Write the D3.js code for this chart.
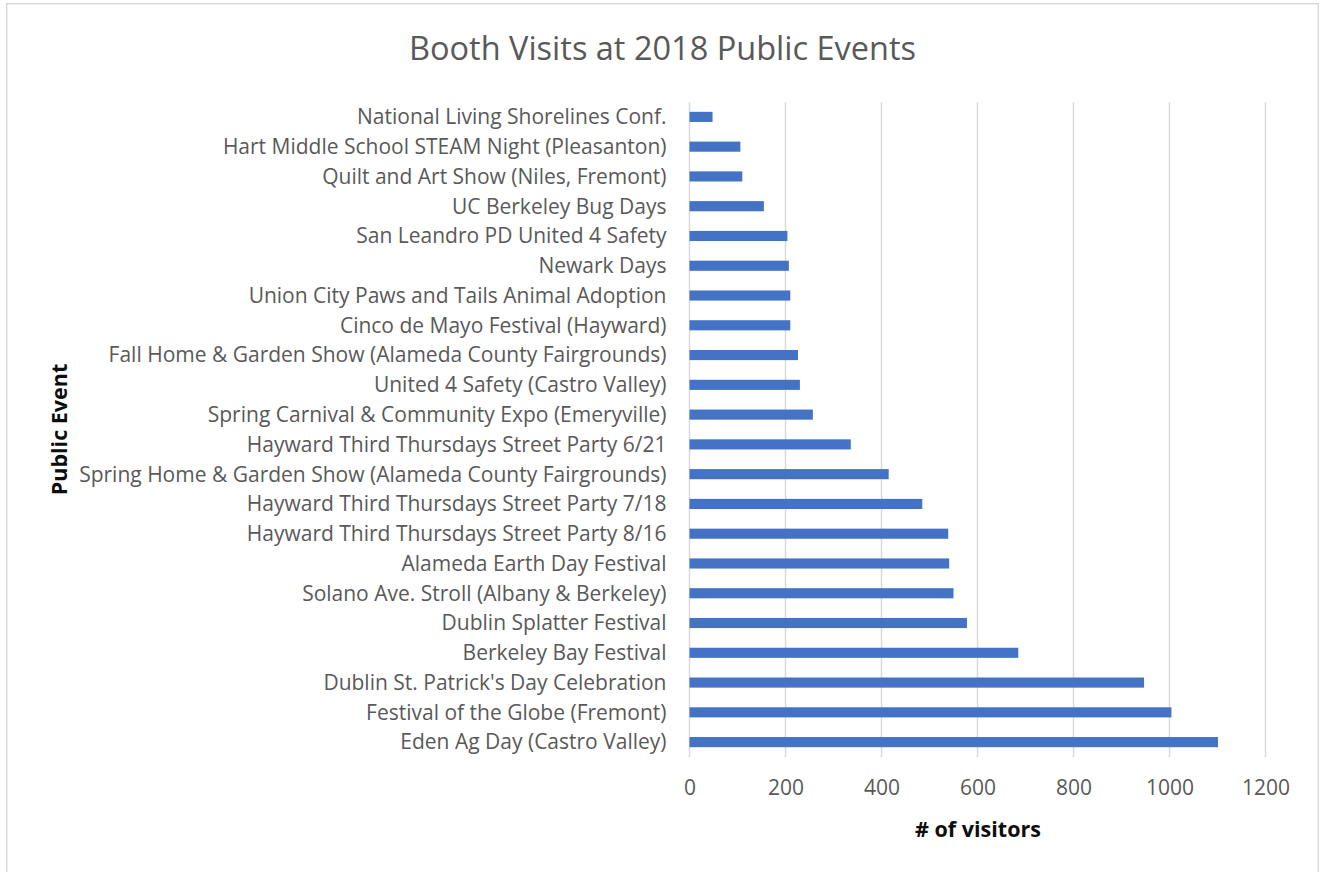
<!DOCTYPE html>
<html>
<head>
<meta charset="utf-8">
<script src="https://cdn.jsdelivr.net/npm/d3@7"></script>
<style>
  body { margin: 0; background: #fff; }
  text { font-family: "Open Sans", sans-serif; }
</style>
</head>
<body>
<script>
// events, listed top to bottom as in the chart
const events = [
  "National Living Shorelines Conf.",
  "Hart Middle School STEAM Night (Pleasanton)",
  "Quilt and Art Show (Niles, Fremont)",
  "UC Berkeley Bug Days",
  "San Leandro PD United 4 Safety",
  "Newark Days",
  "Union City Paws and Tails Animal Adoption",
  "Cinco de Mayo Festival (Hayward)",
  "Fall Home & Garden Show (Alameda County Fairgrounds)",
  "United 4 Safety (Castro Valley)",
  "Spring Carnival & Community Expo (Emeryville)",
  "Hayward Third Thursdays Street Party 6/21",
  "Spring Home & Garden Show (Alameda County Fairgrounds)",
  "Hayward Third Thursdays Street Party 7/18",
  "Hayward Third Thursdays Street Party 8/16",
  "Alameda Earth Day Festival",
  "Solano Ave. Stroll (Albany & Berkeley)",
  "Dublin Splatter Festival",
  "Berkeley Bay Festival",
  "Dublin St. Patrick's Day Celebration",
  "Festival of the Globe (Fremont)",
  "Eden Ag Day (Castro Valley)"
];
const visitors = [48, 106, 110, 155, 204, 207, 210, 210, 226, 230, 257, 336,
                  415, 485, 539, 541, 550, 578, 685, 947, 1004, 1101];
const xTicks = [0, 200, 400, 600, 800, 1000, 1200];

const W = 1321, H = 872;
const plot = { left: 689.5, right: 1265.5, top: 102, bottom: 757 };

const svg = d3.select("body").append("svg")
    .attr("width", W)
    .attr("height", H);

// chart border
svg.append("rect")
    .attr("x", 6.75).attr("y", 3.75)
    .attr("width", 1311.5).attr("height", 872)
    .attr("fill", "#fff")
    .attr("stroke", "#d9d9d9")
    .attr("stroke-width", 1.5);

const x = d3.scaleLinear().domain([0, 1200]).range([plot.left, plot.right]);
const y = d3.scaleBand().domain(events).range([plot.top, plot.bottom]).paddingInner(0.66).paddingOuter(0.33);

// gridlines
svg.append("g").selectAll("line")
    .data(xTicks)
    .enter().append("line")
    .attr("x1", d => x(d)).attr("x2", d => x(d))
    .attr("y1", plot.top).attr("y2", plot.bottom)
    .attr("stroke", "#d9d9d9")
    .attr("stroke-width", 1.5);

// bars
svg.append("g").selectAll("rect")
    .data(events)
    .enter().append("rect")
    .attr("x", x(0))
    .attr("y", d => y(d))
    .attr("width", (d, i) => x(visitors[i]) - x(0))
    .attr("height", y.bandwidth())
    .attr("fill", "#4472c4");

// x axis tick labels
const xAxis = svg.append("g")
    .attr("transform", "translate(0," + (plot.bottom + 23) + ")")
    .call(d3.axisBottom(x).tickValues(xTicks).tickFormat(d3.format("d")).tickSize(0).tickPadding(0));
xAxis.select(".domain").remove();
xAxis.selectAll("text")
    .attr("fill", "#595959")
    .style("font-size", "21px");

// y axis category labels
const yAxis = svg.append("g")
    .attr("transform", "translate(" + (plot.left - 23) + ",0)")
    .call(d3.axisLeft(y).tickSize(0).tickPadding(0));
yAxis.select(".domain").remove();
yAxis.selectAll("text")
    .attr("fill", "#595959")
    .attr("dy", "0.35em")
    .style("font-size", "21px");

// title
svg.append("text")
    .attr("x", 662.5).attr("y", 60)
    .attr("text-anchor", "middle")
    .attr("fill", "#595959")
    .style("font-size", "32.5px")
    .text("Booth Visits at 2018 Public Events");

// axis titles
svg.append("text")
    .attr("x", (plot.left + plot.right) / 2 + 0.5).attr("y", 837)
    .attr("text-anchor", "middle")
    .attr("fill", "#0d0d0d")
    .style("font-size", "21.5px")
    .style("font-weight", "bold")
    .text("# of visitors");

svg.append("text")
    .attr("transform", "translate(67," + (plot.top + plot.bottom) / 2 + ") rotate(-90)")
    .attr("text-anchor", "middle")
    .attr("fill", "#0d0d0d")
    .style("font-size", "21.5px")
    .style("font-weight", "bold")
    .text("Public Event");
</script>
</body>
</html>
